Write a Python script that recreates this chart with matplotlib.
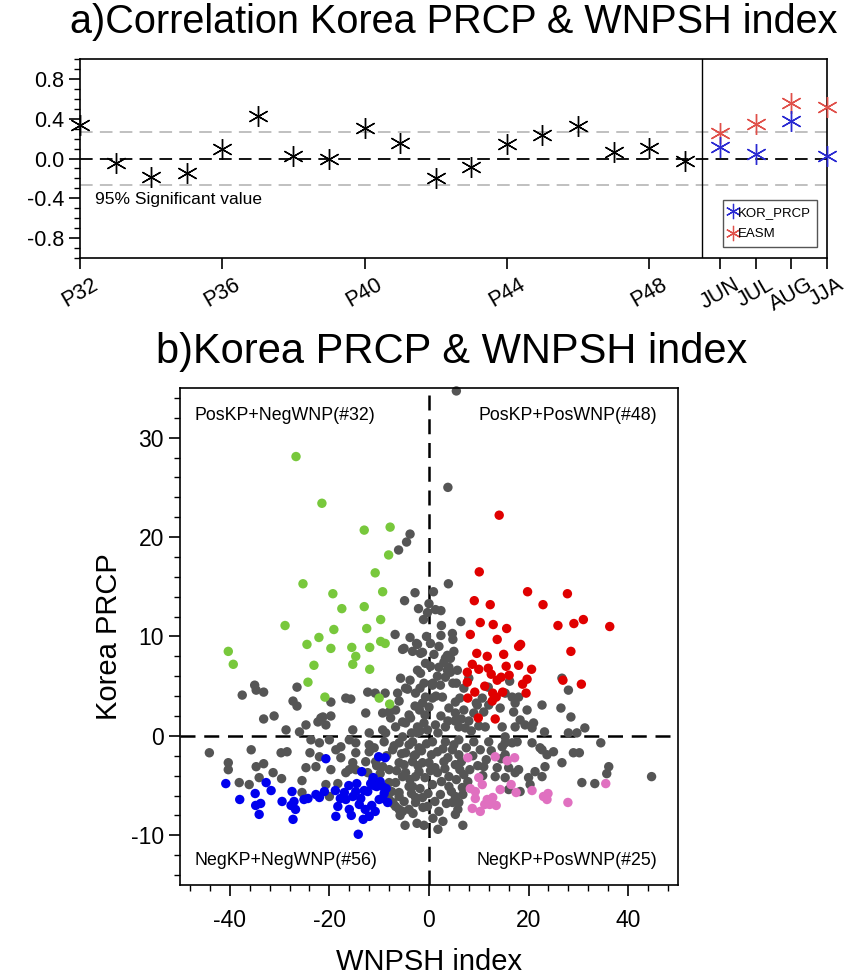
import matplotlib
matplotlib.use("Agg")
import matplotlib.pyplot as plt
import numpy as np
from matplotlib.ticker import MultipleLocator
from matplotlib.lines import Line2D
from matplotlib.transforms import ScaledTranslation

plt.rcParams['font.family'] = ['Liberation Sans', 'DejaVu Sans']
plt.rcParams['axes.unicode_minus'] = False

# ---- panel a: correlation by pentad and by month ----
pentads = np.arange(32, 50)
pentad_corr = [0.34, -0.05, -0.19, -0.15, 0.10, 0.43, 0.03, 0.00, 0.31,
               0.16, -0.20, -0.09, 0.15, 0.24, 0.33, 0.07, 0.11, -0.02]
months = ['JUN', 'JUL', 'AUG', 'JJA']
month_pos = np.arange(50, 54)
kor_prcp_corr = [0.12, 0.05, 0.38, 0.03]
easm_corr = [0.26, 0.35, 0.56, 0.52]
sig_level = 0.27
xtick_pos = [32, 36, 40, 44, 48, 50, 51, 52, 53]
xtick_labels = ['P32', 'P36', 'P40', 'P44', 'P48'] + months

# ---- panel b: WNPSH index vs Korea precipitation ----
pos_neg = np.array([  # PosKP + NegWNP
    (-26.7, 28.1), (-21.5, 23.4), (-25.3, 15.3), (-19.3, 14.3), (-17.5, 12.8),
    (-28.9, 11.1), (-19.1, 10.7), (-22.1, 9.9), (-13.0, 20.7), (-7.8, 21.0),
    (-8.1, 18.2), (-10.8, 16.4), (-9.3, 14.5), (-13.0, 13.0), (-9.7, 11.7),
    (-12.5, 10.8), (-9.7, 9.5), (-8.8, 9.3), (-40.3, 8.5), (-39.3, 7.2),
    (-24.5, 9.2), (-19.7, 8.8), (-15.5, 8.9), (-14.7, 8.0), (-15.3, 7.2),
    (-23.1, 7.1), (-24.3, 5.4), (-20.9, 3.9), (-11.9, 8.9), (-11.9, 6.7),
    (-10.0, 3.8), (-7.9, 3.2)])
pos_pos = np.array([  # PosKP + PosWNP
    (14.1, 22.2), (10.1, 16.5), (19.8, 14.5), (27.8, 14.3), (9.1, 13.6),
    (12.3, 13.2), (22.9, 13.2), (10.3, 11.4), (12.9, 11.2), (15.6, 10.8),
    (25.9, 11.1), (29.1, 11.3), (31.0, 11.7), (36.3, 11.0), (8.3, 10.2),
    (13.7, 9.7), (18.0, 9.0), (18.4, 9.2), (28.5, 8.5), (9.6, 8.3),
    (11.7, 8.0), (15.0, 8.2), (8.7, 7.2), (10.0, 6.7), (7.7, 6.4),
    (11.9, 6.8), (12.5, 6.2), (15.5, 7.0), (18.0, 7.1), (20.6, 6.7),
    (19.7, 5.7), (16.1, 6.1), (13.7, 5.6), (14.5, 5.9), (7.7, 5.4),
    (18.8, 5.2), (26.9, 5.6), (30.6, 5.2), (14.8, 4.4), (19.5, 4.3),
    (9.2, 4.4), (7.8, 3.8), (12.8, 4.3), (12.7, 3.5), (9.9, 1.8),
    (13.3, 1.7), (11.2, 5.0), (13.5, 3.9)])
neg_neg = np.array([  # NegKP + NegWNP
    (-40.8, -4.8), (-38.0, -6.4), (-34.9, -5.8), (-32.7, -4.7), (-31.7, -5.5),
    (-34.8, -7.0), (-33.8, -6.8), (-34.1, -7.9), (-29.5, -6.6), (-27.5, -5.6),
    (-27.1, -6.6), (-27.7, -7.0), (-26.8, -7.4), (-27.3, -8.4), (-25.1, -6.4),
    (-24.3, -6.3), (-22.7, -5.9), (-21.0, -5.6), (-20.7, -2.3), (-18.8, -5.5),
    (-18.3, -7.1), (-18.7, -8.1), (-17.0, -5.7), (-16.1, -5.0), (-16.7, -6.4),
    (-16.0, -7.4), (-15.3, -6.1), (-14.7, -5.6), (-14.2, -9.9), (-10.1, -2.1),
    (-8.8, -2.2), (-13.5, -3.6), (-11.7, -4.8), (-10.5, -5.1), (-9.3, -5.1),
    (-13.7, -6.3), (-14.0, -6.9), (-12.8, -7.4), (-11.5, -7.0), (-9.3, -6.3),
    (-8.3, -6.7), (-9.0, -5.8), (-11.0, -5.0), (-10.0, -6.4), (-12.3, -5.6),
    (-10.8, -7.6), (-14.5, -4.8), (-17.8, -6.3), (-13.0, -5.5), (-22.0, -6.2),
    (-11.2, -4.2), (-9.8, -4.6), (-8.6, -5.3), (-13.2, -8.4), (-15.6, -8.0),
    (-12.0, -8.1)])
neg_pos = np.array([  # NegKP + PosWNP
    (7.8, -2.2), (13.3, -2.1), (17.2, -2.2), (10.7, -4.9), (8.3, -5.3),
    (9.3, -6.3), (11.7, -6.4), (12.8, -6.2), (11.2, -6.9), (8.7, -7.3),
    (10.3, -7.6), (14.3, -5.4), (16.5, -4.9), (17.5, -5.7), (15.7, -2.5),
    (20.7, -5.5), (23.0, -6.1), (23.7, -6.4), (27.9, -6.7), (35.5, -4.8),
    (12.2, -6.9), (9.3, -5.6), (23.9, -5.8), (10.0, -4.2), (13.5, -7.0)])
others = np.array([
    (5.5, 34.7), (3.8, 25.0), (-3.8, 20.3), (-4.5, 19.5), (-6.1, 18.7), (3.9, 15.3),
    (-2.8, 14.4), (0.9, 14.5), (-4.9, 13.6), (0.0, 13.3), (-2.1, 12.8), (-0.3, 12.4),
    (1.3, 12.7), (2.4, 12.6), (-1.1, 11.7), (2.5, 11.1), (6.4, 11.5), (4.7, 10.3),
    (2.4, 10.1), (-3.8, 9.9), (-6.8, 10.2), (4.8, 9.7), (5.0, 8.5), (4.3, 7.8),
    (5.7, 6.6), (4.3, 6.4), (4.8, 5.3), (5.5, 5.3), (16.2, 5.5), (26.7, 5.8),
    (28.0, 4.6), (11.9, 4.9), (-5.0, 8.8), (-3.3, 8.5), (-2.3, 9.2), (-1.7, 8.3),
    (3.7, 8.1), (3.0, 7.4), (4.0, 6.9), (-2.3, 6.6), (-1.7, 6.3), (-5.7, 5.8),
    (1.7, 6.0), (3.3, 5.9), (0.8, 5.3), (2.3, 5.1), (-4.3, 4.7), (-2.7, 4.3),
    (0.7, 3.8), (2.7, 3.9), (-15.7, 3.7), (-12.3, 4.4), (-10.8, 4.3), (-8.8, 4.3),
    (-6.0, 3.5), (0.0, 2.9), (-1.9, 2.6), (-3.7, 1.8), (-6.7, 2.6), (-9.3, 2.3),
    (-12.7, 2.3), (-7.7, 1.8), (-5.3, 1.4), (-2.3, 0.9), (-0.3, 0.6), (1.3, 1.1),
    (3.3, 0.9), (5.3, 2.3), (7.0, 2.6), (4.0, 2.8), (6.0, 0.9), (7.3, 0.8),
    (11.0, 2.4), (14.3, 2.8), (17.0, 2.4), (12.0, 3.1), (11.3, 0.9), (14.7, 0.9),
    (17.3, 0.9), (-15.3, 0.6), (-9.3, 0.6),
    (-14.7, -0.7), (-12.0, -0.9), (-9.0, -0.6), (-6.0, -0.7), (-3.3, -0.6),
    (0.7, -0.6), (3.3, -0.6), (6.0, -0.4), (9.0, -0.6), (12.0, -0.6), (15.3, -0.7),
    (17.7, -0.6), (-14.7, -1.7), (-7.3, -1.4), (-4.7, -1.7), (-2.0, -1.2),
    (1.7, -1.6), (4.7, -1.4), (6.0, -1.9), (10.3, -1.4), (15.3, -1.9), (-12.7, -2.6),
    (-6.0, -2.7), (-3.3, -2.6), (0.0, -2.7), (3.0, -2.6), (5.3, -2.9), (11.0, -3.1),
    (16.0, -3.2), (-16.0, -3.4), (-8.0, -3.4), (-4.7, -3.7), (-2.0, -3.6),
    (1.7, -3.7), (4.0, -4.1), (7.0, -3.9), (13.3, -4.1), (17.3, -3.7), (-6.7, -4.7),
    (-3.3, -5.1), (0.7, -4.9), (4.0, -5.1), (6.7, -5.2), (-6.0, -6.1), (-2.7, -6.2),
    (2.3, -5.9), (5.3, -6.1), (-6.0, -7.4), (-4.0, -7.4), (2.0, -7.6), (5.3, -7.9),
    (4.7, -6.7), (-0.3, -7.1),
    (0.3, 9.3), (3.3, 7.8), (2.0, 6.9), (3.7, 6.6), (0.7, 5.1), (-0.7, 3.9),
    (5.3, 3.4), (10.7, 3.8), (9.7, 3.1), (15.3, 4.3), (18.0, 3.9), (17.3, 3.3),
    (19.7, 2.6), (21.0, 1.3), (22.7, 3.1), (26.5, 2.8), (28.5, 1.9), (23.2, 0.4),
    (28.0, 0.3), (29.7, 0.3), (31.3, 0.8), (34.5, -0.7), (20.7, -0.7), (22.7, -1.4),
    (23.7, -1.9), (25.0, -1.6), (29.0, -1.7), (30.2, -1.7), (26.7, -2.7),
    (36.1, -3.1), (35.7, -3.8), (30.7, -4.7), (33.3, -4.8), (44.7, -4.1),
    (21.3, -3.6), (20.0, -4.2), (18.0, -3.4), (15.3, -4.2), (16.0, -5.4),
    (18.3, -5.6), (6.0, -6.7), (-1.3, -6.2),
    (22.3, -1.2), (23.3, -3.1), (22.7, -4.1), (20.3, -4.9), (20.7, 0.8), (19.3, 1.1),
    (18.3, 1.6), (16.7, 3.9), (15.3, -0.1), (14.7, -1.1), (16.7, -0.7),
    (-35.0, 5.1), (-34.7, 4.6), (-37.5, 4.1), (-33.2, 4.4), (-26.5, 4.9),
    (-27.3, 3.5), (-26.5, 3.0), (-33.2, 1.7), (-31.1, 2.0), (-28.7, 0.6),
    (-26.0, 0.4), (-24.7, 1.1), (-22.3, 1.4), (-21.7, 1.8), (-20.7, 1.1),
    (-19.7, 2.0), (-19.7, 3.4), (-16.7, 3.8), (-23.7, -0.4), (-22.0, -0.7),
    (-20.0, -0.4), (-17.7, -1.1), (-16.0, -0.4), (-44.1, -1.7), (-35.7, -1.4),
    (-29.7, -1.7), (-28.5, -1.6), (-40.3, -2.7), (-40.3, -3.4), (-34.7, -3.1),
    (-33.2, -2.8), (-31.3, -3.7), (-38.1, -4.7), (-36.1, -4.9), (-34.1, -4.2),
    (-29.6, -4.3), (-25.5, -4.5), (-24.7, -3.2), (-22.7, -3.1), (-19.7, -3.4),
    (-16.7, -3.7), (-22.0, -2.1), (-17.7, -2.2), (-15.3, -2.7), (-20.7, -4.9),
    (-18.3, -4.8), (-25.5, -5.7), (-20.0, -6.1),
    (-2.5, 9.3), (-5.3, 8.7), (-1.3, 8.4), (-4.7, 4.8), (-6.3, 4.3), (-8.0, 2.4),
    (-4.0, 2.1), (-4.7, 1.3), (-6.7, 0.9), (-8.7, 0.3), (-12.0, 0.3), (-21.3, 1.9),
    (-23.9, -1.7), (-18.7, -1.4), (-12.0, -1.6), (-10.7, -2.6), (-9.3, -3.1),
    (-5.3, -4.1), (-4.0, -5.1), (-2.7, -6.7), (-6.7, -7.1), (-8.0, -6.4),
    (-6.0, -5.7), (-2.7, -4.1), (-1.3, -2.7), (-2.7, -1.9), (-5.3, -0.1),
    (-2.3, 0.3), (-1.0, 1.3), (-1.3, 3.3), (-1.0, 5.3), (-0.7, 7.3),
    (-12.3, -3.7), (-14.7, -3.4), (-11.3, -4.4), (-8.0, -4.7), (-7.3, -6.7),
    (-5.3, -7.6),
    (-7.0, -1.0), (-5.5, -1.8), (-4.0, -0.9), (-3.0, -2.0), (-1.5, -1.5),
    (-0.5, -0.8), (0.5, -1.9), (1.2, -3.2), (2.8, -1.3), (3.8, -2.2), (5.0, -0.9),
    (6.5, -2.6), (7.5, -1.2), (8.2, -3.4), (-6.5, -3.5), (-5.0, -2.9), (-3.8, -4.4),
    (-2.2, -3.0), (-0.8, -4.2), (0.3, -3.5), (2.5, -4.6), (3.2, -3.3), (5.5, -4.4),
    (6.2, -3.4), (7.8, -4.6), (-7.5, -5.6), (-5.0, -6.6), (-3.5, -5.8), (-1.8, -5.3),
    (-0.2, -5.8), (1.2, -6.6), (3.5, -6.8), (4.5, -5.6), (6.8, -5.9), (-7.2, -6.8),
    (-5.8, -8.0), (-3.2, -7.8), (-1.2, -7.2), (0.8, -8.3), (2.8, -8.6), (-2.4, -8.8),
    (5.8, -7.4), (-8.5, -2.0), (-9.8, -3.8), (-11.0, -1.2), (-10.5, -3.0),
    (8.8, -2.0), (9.8, -3.0), (10.8, -4.0), (11.5, -2.4), (12.5, -1.5), (13.7, -3.2),
    (14.5, -2.3), (-1.0, -9.0), (1.8, -9.4), (6.8, -9.0), (-4.8, -9.0),
    (-3.5, 0.3), (-1.8, 0.5), (1.8, 0.3), (2.4, 2.0), (-0.8, 2.1), (3.8, 1.5),
    (5.2, 1.5), (6.5, 1.7), (8.0, 1.5), (9.0, 2.3), (8.5, 0.5), (10.0, 1.0),
    (-2.8, 3.0), (1.4, 4.0), (-3.8, 5.6), (-1.8, 4.8), (0.3, 7.0), (1.0, 8.2),
    (-0.5, 10.0), (2.0, 9.0), (7.0, 4.8), (8.0, 5.8), (6.2, 3.8), (9.5, 3.3)])

fig = plt.figure(figsize=(8.53, 9.77), dpi=100)

# ---------------- panel a ----------------
ax1 = fig.add_axes([0.0938, 0.7359, 0.8757, 0.2037])
ax1.set_xlim(32, 53)
ax1.set_ylim(-1, 1)
ax1.axhline(0, color='black', lw=1.3, ls=(0, (7, 4)), zorder=1)
for s in (sig_level, -sig_level):
    ax1.axhline(s, color='#bbbbbb', lw=1.3, ls=(0, (7, 4)), zorder=1)
ax1.axvline(49.5, color='black', lw=1.0)

star = (6, 2, 0)
ax1.plot(pentads, pentad_corr, ls='none', marker=star, ms=15, mew=1.0,
         color='black', clip_on=False, zorder=3)
ax1.plot(month_pos, easm_corr, ls='none', marker=star, ms=15, mew=1.0,
         color='#e0504a', clip_on=False, zorder=3)
ax1.plot(month_pos, kor_prcp_corr, ls='none', marker=star, ms=15, mew=1.0,
         color='#2a2ad2', clip_on=False, zorder=4)

ax1.text(32.42, -0.41, '95% Significant value', fontsize=12.5,
         va='center', ha='left')

ax1.set_xticks(xtick_pos)
ax1.set_xticklabels(xtick_labels, rotation=30, ha='center', fontsize=15.5)
shift = ScaledTranslation(6 / 72, 0, fig.dpi_scale_trans)
for lab in ax1.get_xticklabels():
    lab.set_transform(lab.get_transform() + shift)
ax1.set_yticks([-0.8, -0.4, 0.0, 0.4, 0.8])
ax1.set_yticklabels(['-0.8', '-0.4', '0.0', '0.4', '0.8'], fontsize=15.5)
ax1.yaxis.set_minor_locator(MultipleLocator(0.1))
ax1.tick_params(axis='both', which='major', direction='out', length=8, width=1.2)
ax1.tick_params(axis='y', which='minor', direction='out', length=4, width=1.0)
ax1.tick_params(top=False, right=False)
for sp in ax1.spines.values():
    sp.set_linewidth(1.2)

handles = [Line2D([], [], ls='none', marker=star, ms=11, mew=0.9, color='#2a2ad2'),
           Line2D([], [], ls='none', marker=star, ms=11, mew=0.9, color='#e0504a')]
leg = ax1.legend(handles, ['KOR_PRCP', 'EASM'], loc='lower right',
                 bbox_to_anchor=(0.987, 0.055), fontsize=9.5, handlelength=0.6,
                 handletextpad=0.05, borderpad=0.5, labelspacing=0.7,
                 fancybox=False, edgecolor='#555555', framealpha=1,
                 borderaxespad=0)
leg.get_frame().set_linewidth(1.0)

fig.text(454 / 853, 1 - 22 / 977, 'a)Correlation Korea PRCP & WNPSH index',
         ha='center', va='center', fontsize=28.5)

# ---------------- panel b ----------------
ax2 = fig.add_axes([0.2110, 0.0942, 0.5838, 0.5087])
ax2.set_xlim(-50, 50)
ax2.set_ylim(-15, 35)
ax2.axhline(0, color='black', lw=1.8, ls=(0, (6, 3.5)), zorder=1)
ax2.axvline(0, color='black', lw=1.8, ls=(0, (6, 3.5)), zorder=1)

msize = 46
ax2.scatter(others[:, 0], others[:, 1], s=msize, color='#555555',
            edgecolors='none', zorder=2, clip_on=False)
ax2.scatter(pos_neg[:, 0], pos_neg[:, 1], s=msize, color='#78c83c',
            edgecolors='none', zorder=3)
ax2.scatter(pos_pos[:, 0], pos_pos[:, 1], s=msize, color='#e00000',
            edgecolors='none', zorder=3)
ax2.scatter(neg_neg[:, 0], neg_neg[:, 1], s=msize, color='#0000ee',
            edgecolors='none', zorder=3)
ax2.scatter(neg_pos[:, 0], neg_pos[:, 1], s=msize, color='#e070c0',
            edgecolors='none', zorder=3)

quad_fs = 12.8
ax2.text(0.03, 0.944, 'PosKP+NegWNP(#%d)' % len(pos_neg), transform=ax2.transAxes,
         fontsize=quad_fs, ha='left', va='center')
ax2.text(0.958, 0.944, 'PosKP+PosWNP(#%d)' % len(pos_pos), transform=ax2.transAxes,
         fontsize=quad_fs, ha='right', va='center')
ax2.text(0.03, 0.05, 'NegKP+NegWNP(#%d)' % len(neg_neg), transform=ax2.transAxes,
         fontsize=quad_fs, ha='left', va='center')
ax2.text(0.958, 0.05, 'NegKP+PosWNP(#%d)' % len(neg_pos), transform=ax2.transAxes,
         fontsize=quad_fs, ha='right', va='center')

ax2.set_xticks([-40, -20, 0, 20, 40])
ax2.xaxis.set_minor_locator(MultipleLocator(4))
ax2.set_yticks([-10, 0, 10, 20, 30])
ax2.yaxis.set_minor_locator(MultipleLocator(2))
ax2.tick_params(axis='both', which='major', direction='out', length=8, width=1.2,
                labelsize=16.5)
ax2.tick_params(axis='x', which='major', pad=9)
ax2.tick_params(axis='both', which='minor', direction='out', length=4, width=1.0)
ax2.tick_params(top=False, right=False)
for sp in ax2.spines.values():
    sp.set_linewidth(1.2)
ax2.set_xlabel('WNPSH index', fontsize=21, labelpad=12)
ax2.set_ylabel('Korea PRCP', fontsize=21, labelpad=6)

fig.text(452 / 853, 1 - 352 / 977, 'b)Korea PRCP & WNPSH index',
         ha='center', va='center', fontsize=30)

fig.savefig('out.png', dpi=100)
